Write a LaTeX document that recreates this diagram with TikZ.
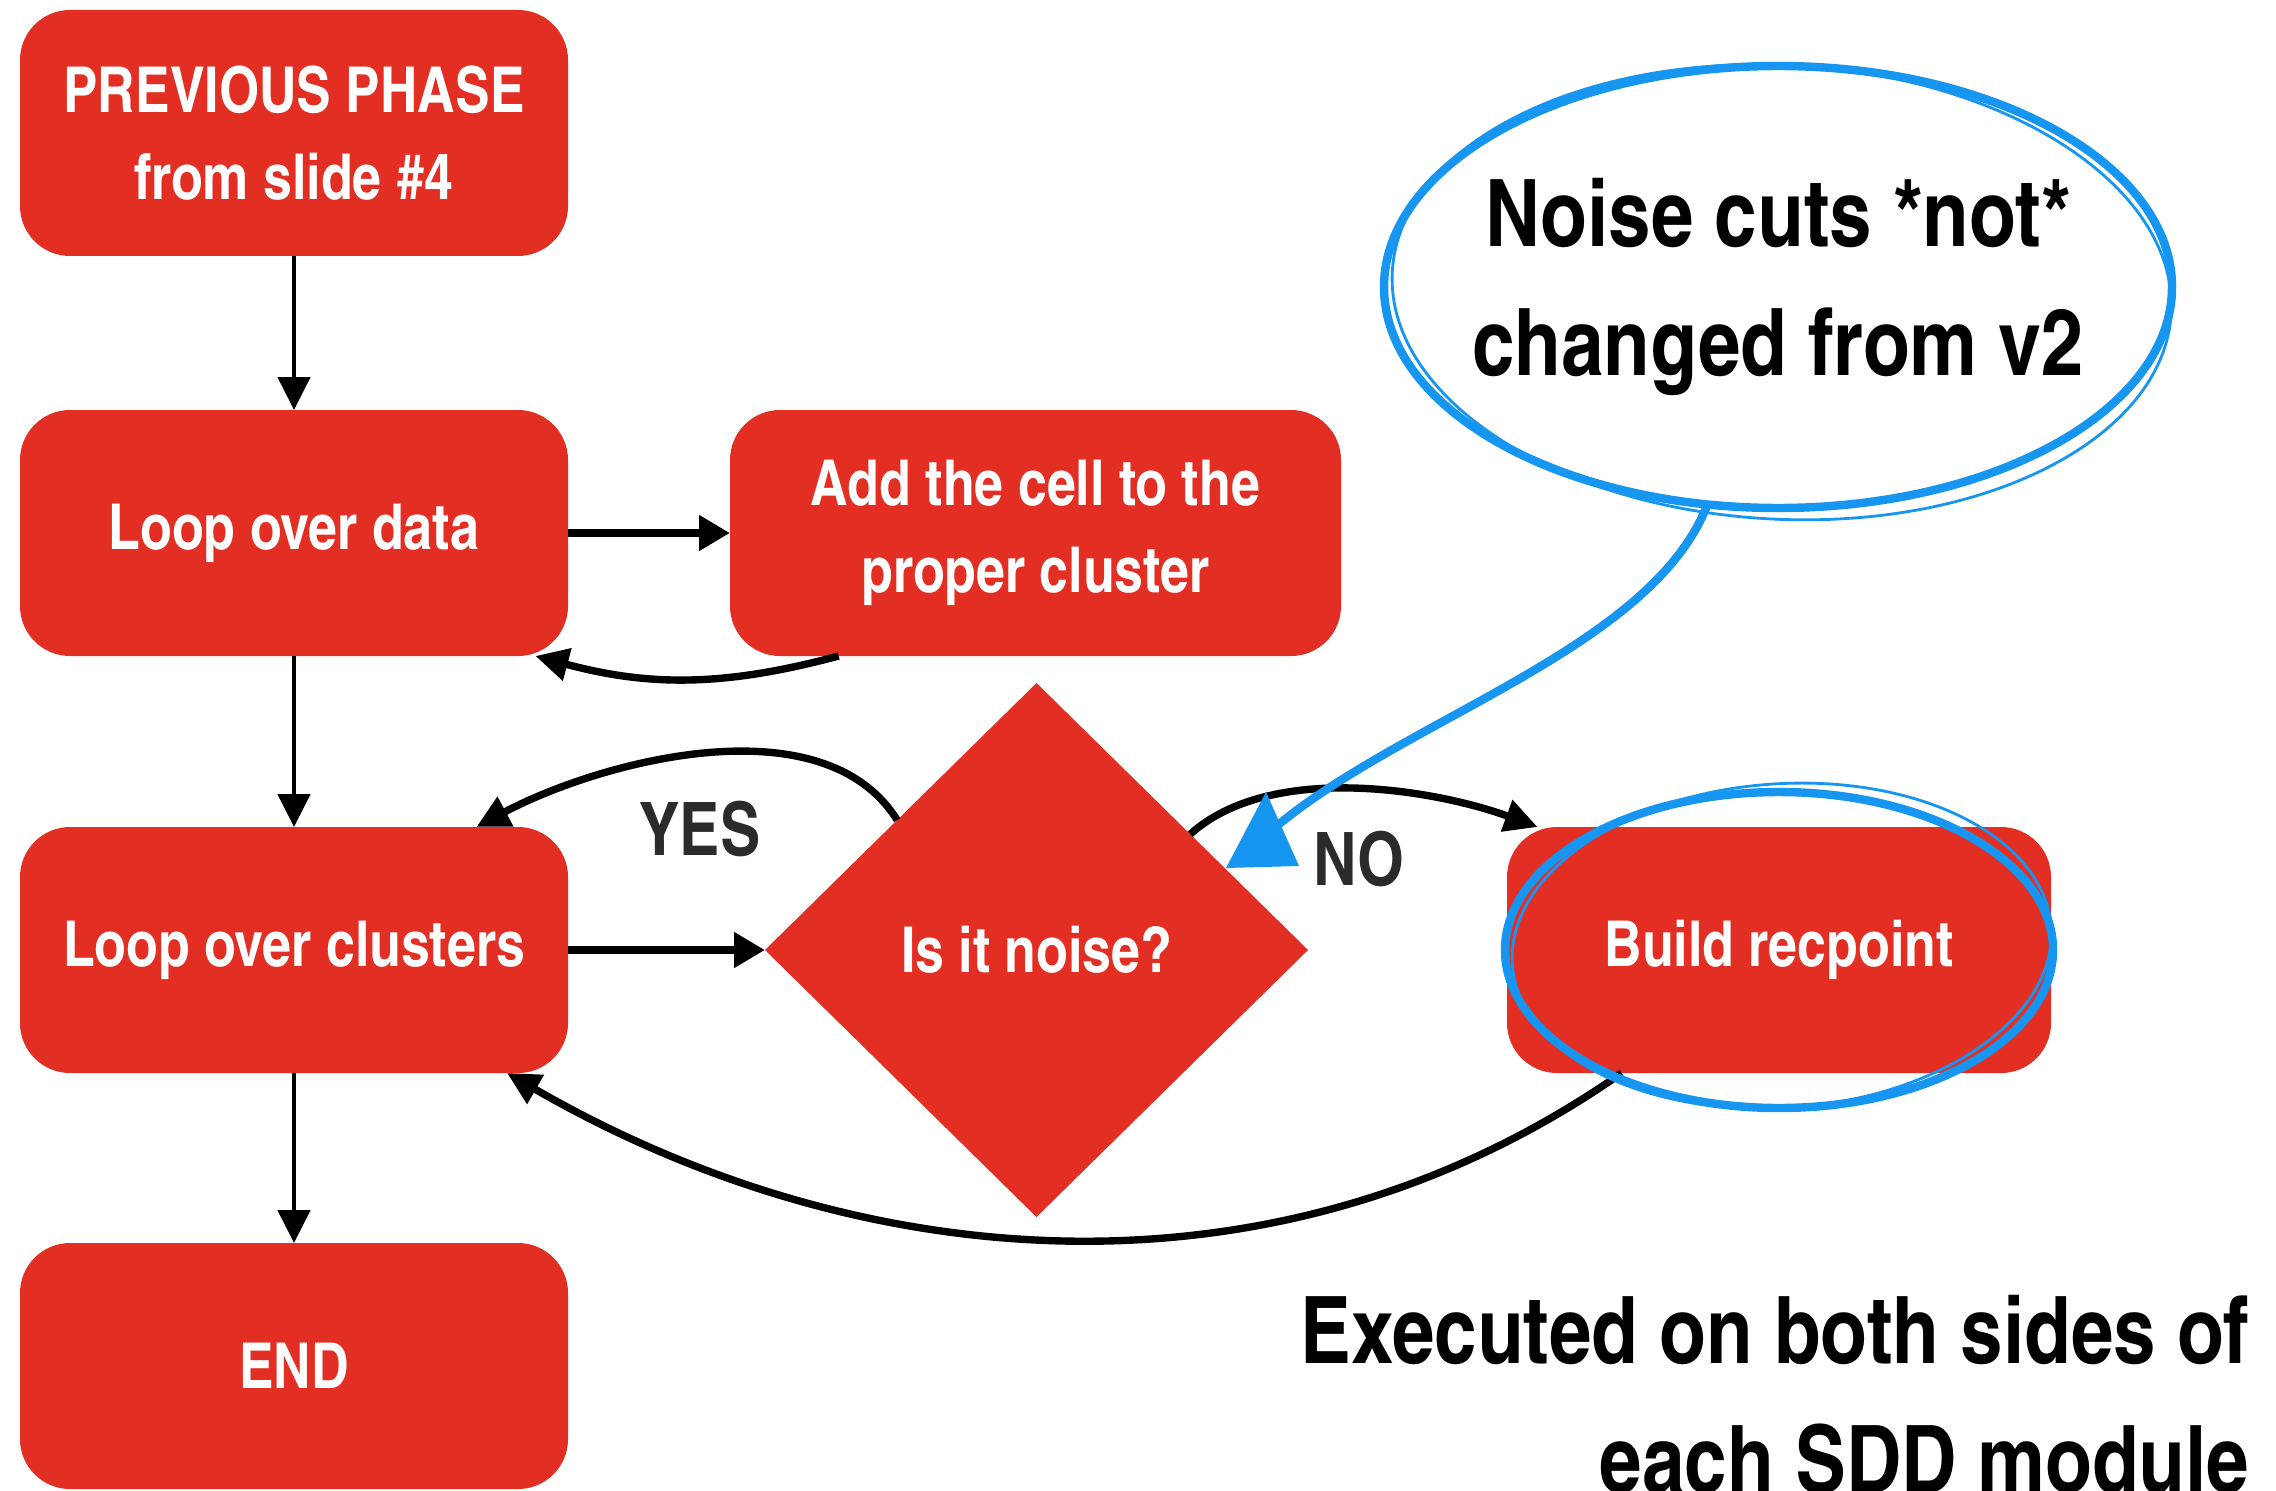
\documentclass[tikz,border=0pt]{standalone}
\usepackage{fontspec}
\setmainfont{texgyreheroscn-bold.otf}
\usepackage{tikz}
\usetikzlibrary{arrows.meta,positioning,shapes.geometric}
\definecolor{FlowRed}{HTML}{E32E23}
\definecolor{NoteBlue}{HTML}{1696F0}
\definecolor{LabelGray}{HTML}{2B2B2B}

\begin{document}
\begin{tikzpicture}[
  box/.style={fill=FlowRed, rounded corners=0.5cm, text=white, align=center, minimum width=5.48cm, minimum height=2.46cm, inner sep=0pt, outer sep=0pt, font=\fontsize{18}{24.8}\selectfont},
  decision/.style={diamond, fill=FlowRed, text=white, minimum width=5.43cm, minimum height=5.34cm, inner sep=0pt, outer sep=0pt, font=\fontsize{18}{24.8}\selectfont},
  arrow/.style={-{Triangle[length=0.33cm,width=0.32cm]}, line width=1.4pt},
  thickarrow/.style={-{Triangle[length=0.31cm,width=0.34cm]}, line width=2.4pt},
  loop/.style={-{Triangle[length=0.33cm,width=0.32cm]}, line width=2.1pt},
  sketch/.style={draw=NoteBlue, line width=2.4pt, line cap=round},
  note/.style={font=\fontsize{26.5}{36.7}\selectfont, inner sep=0pt, align=center},
  lbl/.style={text=LabelGray, font=\fontsize{21}{25}\selectfont, inner sep=0pt}
]
\useasboundingbox (0,0) rectangle (22.76,-14.90);

\node[box] (prev) at (2.94,-1.33) {PREVIOUS PHASE\\from slide \#4};
\node[box, below=1.54cm of prev] (data) {Loop over data};
\node[box, minimum width=6.11cm, right=1.62cm of data] (addcell) {Add the cell to the\\proper cluster};
\node[box, below=1.71cm of data] (clusters) {Loop over clusters};
\node[box, below=1.70cm of clusters] (finish) {END};
\node[decision, right=1.97cm of clusters] (noise) {Is it noise?};
\node[box, minimum width=5.44cm, right=1.99cm of noise] (build) {Build recpoint};

\node[lbl] (yes) at (7.00,-8.29) {YES};
\node[lbl] (no) at (13.59,-8.59) {NO};

\draw[arrow] (prev) -- (data);
\draw[thickarrow] (data) -- (addcell);
\draw[loop] (addcell.212) to[out=-165, in=-15] (data.-27);
\draw[arrow] (data) -- (clusters);
\draw[thickarrow] (clusters) -- (noise);
\draw[loop] (noise.137) to[out=122, in=28, looseness=0.85] (clusters.34);
\draw[loop] (noise.37) to[out=42, in=160, looseness=0.8] (build.153);
\draw[loop] (build.218) to[out=-145, in=-30, looseness=0.95] (clusters.-30);
\draw[arrow] (clusters) -- (finish);

\node[note, ellipse, minimum width=7.88cm, minimum height=4.42cm] (bubble) at (17.78,-2.87) {Noise cuts *not*\\changed from v2};
\draw[sketch] (bubble.center) ellipse [x radius=3.94cm, y radius=2.21cm];
\draw[sketch, line width=0.8pt, rotate around={-3:(bubble.center)}] ([shift={(0.04,-0.05)}]bubble.center) ellipse [x radius=3.90cm, y radius=2.27cm];
\draw[sketch] (build.center) ellipse [x radius=2.74cm, y radius=1.58cm];
\draw[sketch, line width=0.8pt, rotate around={4:(build.center)}] ([shift={(0.03,0.04)}]build.center) ellipse [x radius=2.70cm, y radius=1.62cm];

\coordinate (notetip) at (12.72,-8.30);
\draw[sketch] (bubble.-108) .. controls (16.5,-6.5) and (14.0,-7.2) .. (notetip);
\fill[NoteBlue] (notetip) ++(-0.06,0.38) -- ++(0.33,-0.74) -- ++(-0.73,-0.02) -- cycle;

\node[note, align=right, anchor=north east] (remark) at (22.50,-12.95) {Executed on both sides of\\each SDD module};
\end{tikzpicture}
\end{document}
